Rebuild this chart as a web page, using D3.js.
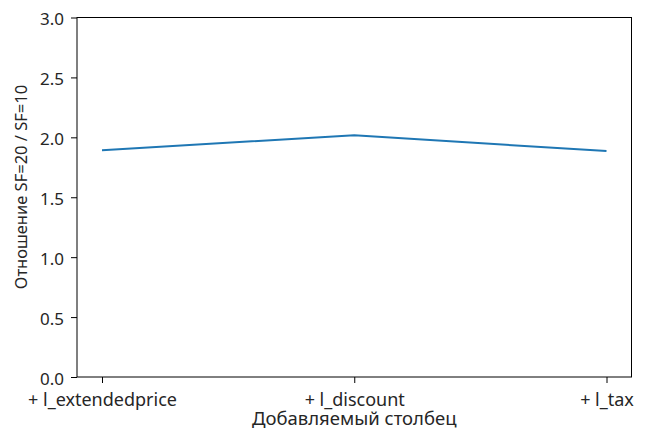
<!DOCTYPE html>
<html>
<head>
<meta charset="utf-8">
<script src="https://cdn.jsdelivr.net/npm/d3@7"></script>
<style>
  html, body { margin: 0; padding: 0; background: #fff; }
  svg text { font-family: "Noto Sans", sans-serif; fill: #262626; }
</style>
</head>
<body>
<svg id="chart" width="646" height="432"></svg>
<script>
// Added column and ratio of run time SF=20 / SF=10
const categories = ["+ l_extendedprice", "+ l_discount", "+ l_tax"];
const ratios = [1.893, 2.018, 1.885];
const yTicks = [0.0, 0.5, 1.0, 1.5, 2.0, 2.5, 3.0];

const FONT = "Noto Sans, sans-serif";

const margin = { top: 17.5, right: 14.5, bottom: 55, left: 77 };
const width = 646, height = 432;
const innerW = width - margin.left - margin.right;
const innerH = height - margin.top - margin.bottom;

const svg = d3.select("#chart");
const g = svg.append("g").attr("transform", `translate(${margin.left},${margin.top})`);

const x = d3.scalePoint().domain(categories).range([25, innerW - 25]);
const y = d3.scaleLinear().domain([0, 3]).range([innerH, 0]);

// Axes
const xAxis = g.append("g")
  .attr("transform", `translate(0,${innerH})`)
  .call(d3.axisBottom(x).tickSize(6).tickPadding(10));
const yAxis = g.append("g")
  .call(d3.axisLeft(y).tickValues(yTicks).tickFormat(d3.format(".1f")).tickSize(6).tickPadding(7));

xAxis.selectAll("text").attr("font-size", 18);
yAxis.selectAll("text").attr("font-size", 17).attr("dy", "0.42em");
[xAxis, yAxis].forEach(a => {
  a.selectAll("text").attr("font-family", FONT).style("fill", "#262626");
  a.selectAll(".tick line").attr("stroke", "#000").attr("stroke-width", 1);
  a.select(".domain").remove();
});

// Frame
g.append("rect")
  .attr("x", 0).attr("y", 0)
  .attr("width", innerW).attr("height", innerH)
  .attr("fill", "none").attr("stroke", "#000").attr("stroke-width", 1);

// Line
const line = d3.line()
  .x((d, i) => x(categories[i]))
  .y(d => y(d));
g.append("path")
  .datum(ratios)
  .attr("d", line)
  .attr("fill", "none")
  .attr("stroke", "#1f77b4")
  .attr("stroke-width", 2);

// Axis titles
svg.append("text")
  .attr("x", margin.left + innerW / 2)
  .attr("y", 425)
  .attr("text-anchor", "middle")
  .attr("font-size", 18.5)
  .text("Добавляемый столбец");

svg.append("text")
  .attr("transform", `translate(27,187) rotate(-90)`)
  .attr("text-anchor", "middle")
  .attr("font-size", 16.5)
  .text("Отношение SF=20 / SF=10");
</script>
</body>
</html>
